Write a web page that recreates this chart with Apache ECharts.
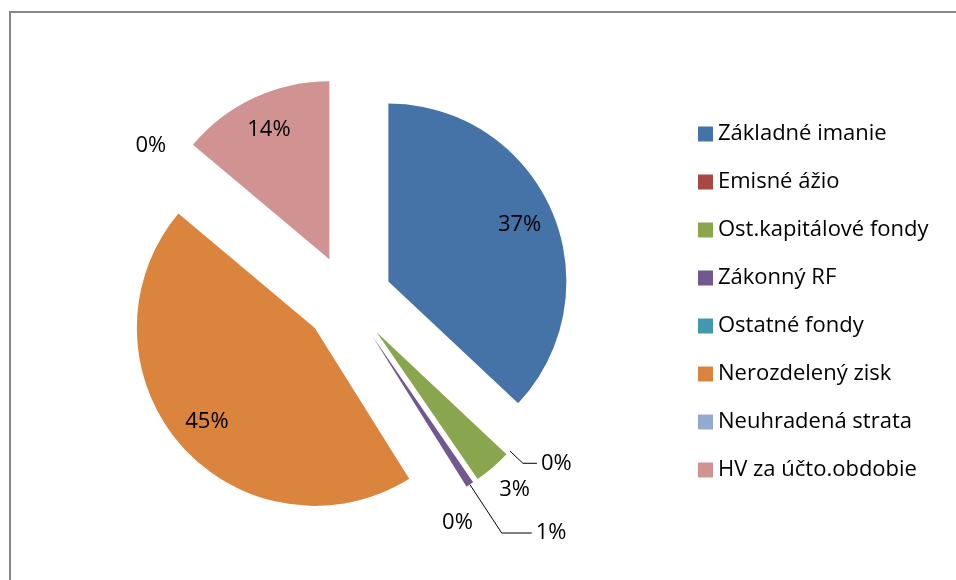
<!DOCTYPE html>
<html>
<head>
<meta charset="utf-8">
<script src="https://cdn.jsdelivr.net/npm/echarts@6/dist/echarts.min.js"></script>
<style>
  html, body { margin: 0; padding: 0; background: #fff; }
  #chart { width: 956px; height: 580px; }
</style>
</head>
<body>
<div id="chart"></div>
<script>
const categories = ['Základné imanie', 'Emisné ážio', 'Ost.kapitálové fondy', 'Zákonný RF', 'Ostatné fondy', 'Nerozdelený zisk', 'Neuhradená strata', 'HV za účto.obdobie'];
const shares = [37, 0, 3.4, 0.7, 0, 45, 0, 13.9];
const colors = ['#4572A7', '#AA4643', '#89A54E', '#71588F', '#4198AF', '#DB843D', '#93A9CF', '#D19392'];

// how each label sits in the original: inside the slice, with a leader line, or loose next to it
const labelSpec = {
	'Základné imanie': 'in',
	'Emisné ážio': { line: [18, 14] },
	'Ost.kapitálové fondy': { shift: [-4, 15] },
	'Zákonný RF': { line: [58, 30] },
	'Ostatné fondy': { shift: [-33, 27] },
	'Nerozdelený zisk': 'in',
	'Neuhradená strata': { shift: [0, -4] },
	'HV za účto.obdobie': 'in'
};

const font = { fontFamily: 'Open Sans', fontSize: 22, color: '#000' };
const pct = p => Math.round(p.percent) + '%';
const center = [348, 299];

const sliceData = categories.map((name, i) => {
	const spec = labelSpec[name];
	const item = { name, value: shares[i], selected: true, itemStyle: { color: colors[i] } };
	if (spec === 'in') {
		item.label = { show: false };
		item.labelLine = { show: false };
	} else if (spec.line) {
		item.labelLine = { show: true, length: spec.line[0], length2: spec.line[1] };
	} else {
		item.labelLine = { show: false, length: 10, length2: 0 };
	}
	return item;
});

// transparent twin, only there to put the big labels deeper into their slices
const innerLabelData = categories.map((name, i) => ({
	name, value: shares[i], selected: true,
	label: { show: labelSpec[name] === 'in' }
}));

const chart = echarts.init(document.getElementById('chart'));
chart.setOption({
	animation: false,
	backgroundColor: '#fff',
	graphic: [{
		type: 'rect', silent: true,
		shape: { x: 10, y: 12, width: 1000, height: 1000 },
		style: { fill: 'none', stroke: '#868686', lineWidth: 2 }
	}],
	legend: {
		orient: 'vertical',
		left: 693, top: 118,
		icon: 'rect', itemWidth: 15, itemHeight: 15, itemGap: 26,
		data: categories,
		textStyle: font,
		selectedMode: false
	},
	series: [{
		type: 'pie',
		center, radius: 178,
		startAngle: 90, clockwise: true,
		selectedMode: 'multiple', selectedOffset: 44,
		avoidLabelOverlap: false,
		emphasis: { disabled: true },
		itemStyle: { borderWidth: 0 },
		label: Object.assign({ show: true, position: 'outside', formatter: pct, distanceToLabelLine: 4 }, font),
		labelLine: { smooth: false, lineStyle: { color: '#000', width: 1 } },
		labelLayout: p => {
			const spec = labelSpec[categories[p.dataIndex]];
			return spec && spec.shift ? { dx: spec.shift[0], dy: spec.shift[1] } : {};
		},
		data: sliceData
	}, {
		type: 'pie',
		center, radius: 280,
		startAngle: 90, clockwise: true,
		selectedMode: 'multiple', selectedOffset: 44,
		silent: true,
		emphasis: { disabled: true },
		itemStyle: { color: 'rgba(0,0,0,0)', borderWidth: 0 },
		label: Object.assign({ position: 'inside', formatter: pct }, font),
		labelLine: { show: false },
		data: innerLabelData
	}]
});
</script>
</body>
</html>
